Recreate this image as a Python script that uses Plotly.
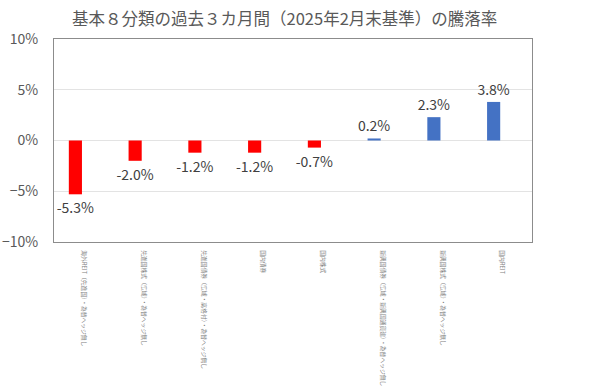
import plotly.graph_objects as go

categories = [
    "海外REIT（先進国）・為替ヘッジ無し",
    "先進国株式（広域）・為替ヘッジ無し",
    "先進国債券（広域・高格付）・為替ヘッジ無し",
    "国内債券",
    "国内株式",
    "新興国債券（広域・新興国通貨建）・為替ヘッジ無し",
    "新興国株式（広域）・為替ヘッジ無し",
    "国内REIT",
]
values = [-5.3, -2.0, -1.2, -1.2, -0.7, 0.2, 2.3, 3.8]
value_labels = ["-5.3%", "-2.0%", "-1.2%", "-1.2%", "-0.7%", "0.2%", "2.3%", "3.8%"]
title_text = "基本８分類の過去３カ月間（2025年2月末基準）の騰落率"

colors = ["#FF0000" if v < 0 else "#4472C4" for v in values]
FONT = "Noto Sans CJK JP"

fig = go.Figure(
    go.Bar(
        x=categories,
        y=values,
        marker=dict(color=colors, line=dict(width=0)),
        width=0.22,
        offset=-0.252,
        text=value_labels,
        textposition="outside",
        constraintext="none",
        textfont=dict(size=14, color="#404040", family=FONT),
        cliponaxis=False,
        showlegend=False,
        hoverinfo="skip",
    )
)

fig.update_layout(
    width=600,
    height=387,
    margin=dict(l=54, r=68, t=39, b=145),
    paper_bgcolor="white",
    plot_bgcolor="white",
    font=dict(family=FONT),
    annotations=[
        dict(
            text=title_text,
            xref="paper", yref="paper",
            x=0.483, y=1, yshift=21,
            xanchor="center", yanchor="middle",
            showarrow=False,
            font=dict(size=16.5, color="#595959", family=FONT),
        )
    ],
)

fig.update_yaxes(
    range=[-10, 10],
    dtick=5,
    ticksuffix="%",
    tickfont=dict(size=14, color="#595959", family=FONT),
    showgrid=True,
    gridcolor="#E3E3E3",
    zeroline=True,
    zerolinecolor="#E3E3E3",
    zerolinewidth=1,
    showline=True,
    linecolor="#8C8C8C",
    linewidth=1,
    mirror=True,
    ticks="",
    ticklabelstandoff=12,
    automargin=False,
)

fig.update_xaxes(
    tickangle=90,
    tickfont=dict(size=5.8, color="#7F7F7F", family=FONT),
    showline=True,
    linecolor="#8C8C8C",
    linewidth=1,
    mirror=True,
    showgrid=False,
    ticks="",
    ticklabelstandoff=6,
    automargin=False,
)

fig.write_html(
    "out.html",
    config={"displayModeBar": False},
    post_script="document.body.style.margin='0';document.body.style.overflow='hidden';",
)
